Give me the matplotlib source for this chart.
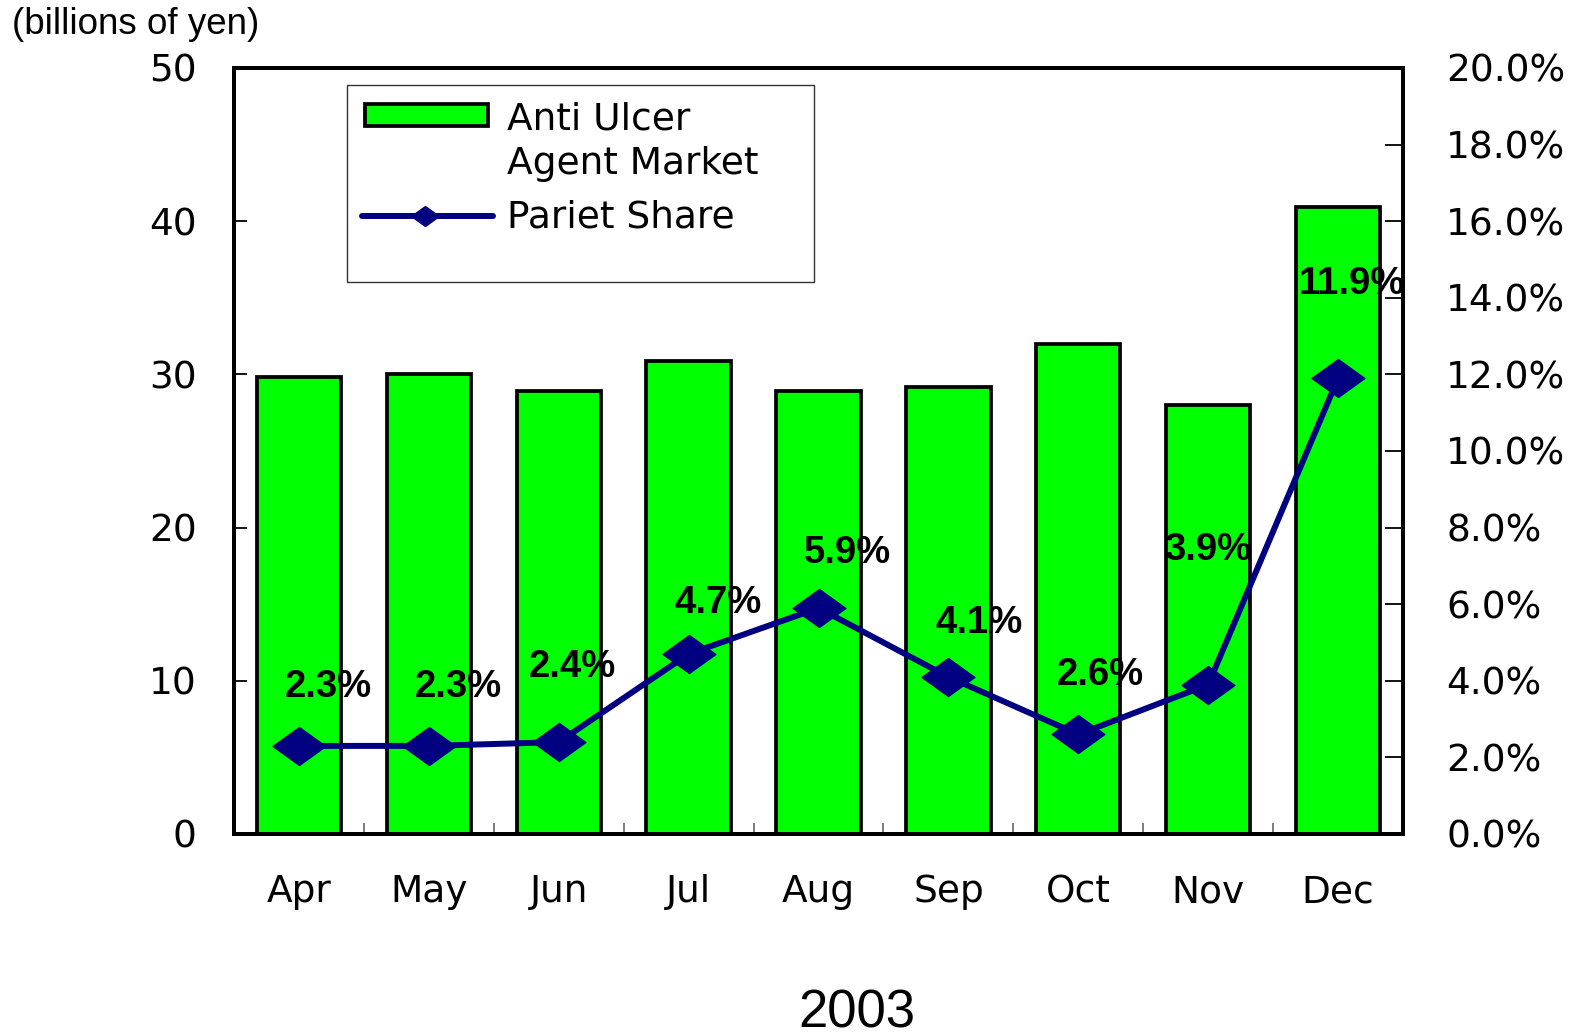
import numpy as np
import matplotlib.pyplot as plt
from matplotlib.path import Path
from matplotlib.patches import Rectangle
from matplotlib.lines import Line2D

months = ["Apr", "May", "Jun", "Jul", "Aug", "Sep", "Oct", "Nov", "Dec"]
market = [29.8, 30.0, 28.9, 30.9, 28.9, 29.2, 32.0, 28.0, 40.9]   # billions of yen
share = [2.3, 2.3, 2.4, 4.7, 5.9, 4.1, 2.6, 3.9, 11.9]            # %

# label offsets (pixels) from each point, hand placed like the original
lab_dx = [29, 29, 14, 29, 29, 31, 22, 0, 14]
lab_dy = [59, 59, 75, 51, 55, 54, 59, 135, 94]

tick_font = "DejaVu Sans"
plain_font = "Liberation Sans"
W, H = 1571, 1036
GREEN = "#00FF00"
NAVY = "#000080"


def px(x, y):
    # pixel position (top-left origin) -> figure fraction
    return x / W, 1 - y / H


fig = plt.figure(figsize=(W / 100, H / 100), dpi=100)
ax = fig.add_axes([234/W, 1-834/H, 1169/W, 766/H])
ax2 = ax.twinx()

x = np.arange(len(months))
ax.bar(x, market, width=0.65, color=GREEN, edgecolor="black", linewidth=2.7)

diamond = Path([(-1, 0), (0, 0.72), (1, 0), (0, -0.72), (-1, 0)],
               [Path.MOVETO, Path.LINETO, Path.LINETO, Path.LINETO, Path.CLOSEPOLY])
ax2.plot(x, share, color=NAVY, linewidth=4.3, marker=diamond, markersize=38,
         markerfacecolor=NAVY, markeredgecolor=NAVY)

for i, v in enumerate(share):
    ax2.annotate(f"{v}%", (x[i], v), xytext=(lab_dx[i], lab_dy[i]), textcoords="offset pixels",
                 ha="center", va="center", fontsize=27.5, fontweight="bold", family=plain_font)

ax.set_xlim(-0.5, len(months) - 0.5)
ax.set_ylim(0, 50)
ax2.set_ylim(0, 20)
ax.set_yticks(np.arange(0, 51, 10))
ax2.set_yticks(np.arange(0, 20.1, 2))
ax2.set_yticklabels([f"{t:.1f}%" for t in np.arange(0, 20.1, 2)])

ax.set_xticks(x)
ax.set_xticklabels(months)
ax.set_xticks(np.arange(0.5, len(months) - 1, 1), minor=True)
ax.tick_params(axis="x", which="major", length=0, pad=29)
ax.tick_params(axis="x", which="minor", direction="in", length=8, width=1.2, color="#666666")
ax.tick_params(axis="y", direction="in", length=9, width=1.3, pad=27)
ax2.tick_params(axis="y", direction="in", length=13, width=1.3, pad=31)

for lab in ax.get_xticklabels() + ax.get_yticklabels() + ax2.get_yticklabels():
    lab.set_family(tick_font)
    lab.set_fontsize(27)

for a in (ax, ax2):
    for s in a.spines.values():
        s.set_linewidth(2.8)

fig.text(*px(12, 25), "(billions of yen)", fontsize=26.5, family=plain_font,
         ha="left", va="center")
fig.text(*px(857, 1013), "2003", fontsize=38, family=plain_font,
         ha="center", va="center")

# legend, drawn by hand to keep the original's layout
fig.add_artist(Rectangle(px(347, 282), 467 / W, 197 / H, transform=fig.transFigure,
                         facecolor="white", edgecolor="#333333", linewidth=1.0, zorder=5))
fig.add_artist(Rectangle(px(365, 126), 123 / W, 22 / H, transform=fig.transFigure,
                         facecolor=GREEN, edgecolor="black", linewidth=2.7, zorder=6))
lx0, ly = px(362, 216)
lx1, _ = px(493, 216)
lxm, _ = px(425, 216)
fig.add_artist(Line2D([lx0, lx1], [ly, ly], transform=fig.transFigure, color=NAVY,
                      linewidth=4.3, solid_capstyle="round", zorder=6))
fig.add_artist(Line2D([lxm], [ly], transform=fig.transFigure, marker=diamond, markersize=20,
                      color=NAVY, zorder=7))
for txt, base in [("Anti Ulcer", 130), ("Agent Market", 174), ("Pariet Share", 228)]:
    fig.text(*px(507, base), txt, fontsize=27, family=tick_font, ha="left",
             va="baseline", zorder=7)

fig.savefig("out.png", dpi=100)
